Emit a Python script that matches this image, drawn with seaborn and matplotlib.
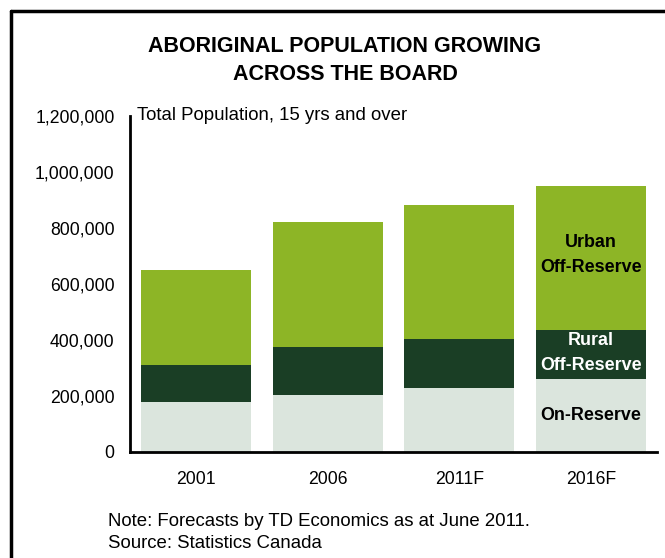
import numpy as np
import pandas as pd
import matplotlib
matplotlib.use("Agg")
import matplotlib.pyplot as plt
from matplotlib.lines import Line2D
from matplotlib.ticker import FuncFormatter
import seaborn as sns

sns.set_theme(style="white")
plt.rcParams["font.family"] = ["Liberation Sans", "DejaVu Sans"]
plt.rcParams["text.color"] = "black"

# data
years = ["2001", "2006", "2011F", "2016F"]
on_reserve = [178000, 203000, 228000, 260000]
rural_off = [132000, 171000, 174000, 174000]
urban_off = [341000, 448000, 481000, 516000]

df = pd.DataFrame({"year": years, "on": on_reserve, "rural": rural_off, "urban": urban_off})
df["rural_top"] = df["on"] + df["rural"]
df["total"] = df["rural_top"] + df["urban"]

C_URBAN = "#8DB526"
C_RURAL = "#1A3E25"
C_ON = "#DBE5DD"

fig = plt.figure(figsize=(6.65, 5.58), dpi=100)
ax = fig.add_axes([130 / 665, 1 - 452 / 558, 527 / 665, 336 / 558])

# stacked bars: draw totals first, then cover with lower segments
for col, color in [("total", C_URBAN), ("rural_top", C_RURAL), ("on", C_ON)]:
    sns.barplot(data=df, x="year", y=col, color=color, width=0.835,
                saturation=1, ax=ax, edgecolor="none", linewidth=0)

ax.set_xlim(-0.5, 3.5)
ax.set_ylim(0, 1200000)
ax.set_yticks(np.arange(0, 1200001, 200000))
ax.yaxis.set_major_formatter(FuncFormatter(lambda v, p: f"{int(v):,}"))
ax.tick_params(axis="both", length=0, labelsize=12.7, colors="black")
ax.tick_params(axis="y", pad=11)
ax.tick_params(axis="x", pad=14)
ax.set_xlabel("")
ax.set_ylabel("")
for s in ["top", "right"]:
    ax.spines[s].set_visible(False)
for s in ["left", "bottom"]:
    ax.spines[s].set_color("black")
    ax.spines[s].set_linewidth(2)

ax.text(0.013, 1.0, "Total Population, 15 yrs and over", transform=ax.transAxes,
        ha="left", va="center", fontsize=13.4, color="black")

# segment labels on the last bar
i = 3
lab = dict(ha="center", va="center", fontsize=12.9, fontweight="bold", linespacing=1.6)
ax.text(i, df["rural_top"][i] + df["urban"][i] * 0.52, "Urban\nOff-Reserve", color="black", **lab)
ax.text(i, df["on"][i] + df["rural"][i] * 0.53, "Rural\nOff-Reserve", color="white", **lab)
ax.text(i, df["on"][i] * 0.5, "On-Reserve", color="black", **lab)

fig.text(345 / 665, 1 - 47 / 558, "ABORIGINAL POPULATION GROWING",
         ha="center", va="center", fontsize=15.5, fontweight="bold")
fig.text(345 / 665, 1 - 75 / 558, "ACROSS THE BOARD",
         ha="center", va="center", fontsize=15.5, fontweight="bold")

fig.text(108 / 665, 1 - 521 / 558, "Note: Forecasts by TD Economics as at June 2011.",
         ha="left", va="center", fontsize=13.4)
fig.text(108 / 665, 1 - 544 / 558, "Source: Statistics Canada",
         ha="left", va="center", fontsize=13.4)

# outer frame (open at right and bottom)
x0, y0 = 11 / 665, 1 - 11 / 558
fig.add_artist(Line2D([x0, x0], [0, y0], transform=fig.transFigure, color="black", lw=2.5))
fig.add_artist(Line2D([x0, 1], [y0, y0], transform=fig.transFigure, color="black", lw=2.5))

fig.savefig("out.png", dpi=100)
